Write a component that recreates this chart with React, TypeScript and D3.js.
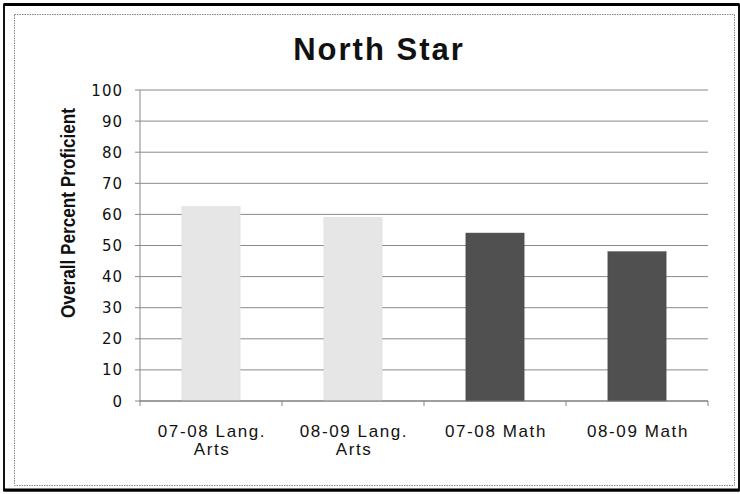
import React from "react";
import * as d3 from "d3";

const categories: string[][] = [["07-08 Lang.", "Arts"], ["08-09 Lang.", "Arts"], ["07-08 Math"], ["08-09 Math"]];
const values: number[] = [62.5, 59, 54, 48];
const barColors: string[] = ["#e6e6e6", "#e6e6e6", "#505050", "#505050"];
const yTicks: number[] = [0, 10, 20, 30, 40, 50, 60, 70, 80, 90, 100];

export default function App() {
  const W = 740, H = 494;
  const left = 140, right = 708, top = 90, bottom = 401;
  const x = d3.scaleBand<number>().domain(d3.range(categories.length)).range([left, right]).paddingInner(0.59).paddingOuter(0.295);
  const xOuter = d3.scaleBand<number>().domain(d3.range(categories.length)).range([left, right]);
  const y = d3.scaleLinear().domain([0, 100]).range([bottom, top]);
  const font = "Arial, 'Liberation Sans', sans-serif";
  return (
    <svg width={W} height={H} style={{ position: "absolute", left: 0, top: 0, background: "#fff" }}>
      <rect x={4} y={4.5} width={735} height={486} fill="none" stroke="#111" strokeWidth={2} />
      <line x1={4} y1={4.5} x2={739} y2={4.5} stroke="#000" strokeWidth={3} />
      <line x1={4} y1={490} x2={739} y2={490} stroke="#000" strokeWidth={3} />
      <rect x={14.5} y={14.5} width={720} height={471} fill="none" stroke="#888" strokeWidth={1} strokeDasharray="1.5,1" />
      <text x={379} y={60} textAnchor="middle" fontFamily={font} fontWeight="bold" fontSize={31} letterSpacing={2} fill="#111">North Star</text>
      {yTicks.map((t) => (
        <g key={t}>
          <line x1={left - 5} x2={right} y1={y(t)} y2={y(t)} stroke="#8a8a8a" strokeWidth={1} />
          <text x={123} y={y(t) + 5.5} textAnchor="end" fontFamily="'DejaVu Sans', Verdana, sans-serif" fontSize={15} letterSpacing={1} fill="#111">{t}</text>
        </g>
      ))}
      <line x1={left} x2={left} y1={top} y2={bottom + 1} stroke="#888" strokeWidth={1} />
      {d3.range(categories.length + 1).map((i) => {
        const xx = i < categories.length ? xOuter(i)! : right;
        return <line key={i} x1={xx} x2={xx} y1={bottom} y2={bottom + 5} stroke="#888" strokeWidth={1} />;
      })}
      {values.map((v, i) => (
        <rect key={i} x={x(i)!} y={y(v)} width={x.bandwidth()} height={bottom - y(v)} fill={barColors[i]} stroke={i < 2 ? "#d8d8d8" : "#444"} strokeWidth={0.5} />
      ))}
      <line x1={left} x2={right} y1={bottom} y2={bottom} stroke="#777" strokeWidth={1} />
      {categories.map((lines, i) => (
        <text key={i} textAnchor="middle" fontFamily={font} fontSize={17} letterSpacing={1.6} fill="#111">
          {lines.map((l, j) => (
            <tspan key={j} x={xOuter(i)! + xOuter.bandwidth() / 2 + 1} y={437 + j * 18}>{l}</tspan>
          ))}
        </text>
      ))}
      <text transform={`translate(75, 213) rotate(-90)`} textAnchor="middle" fontFamily={font} fontWeight="bold" fontSize={21} textLength={210} lengthAdjust="spacingAndGlyphs" fill="#111">Overall Percent Proficient</text>
    </svg>
  );
}
